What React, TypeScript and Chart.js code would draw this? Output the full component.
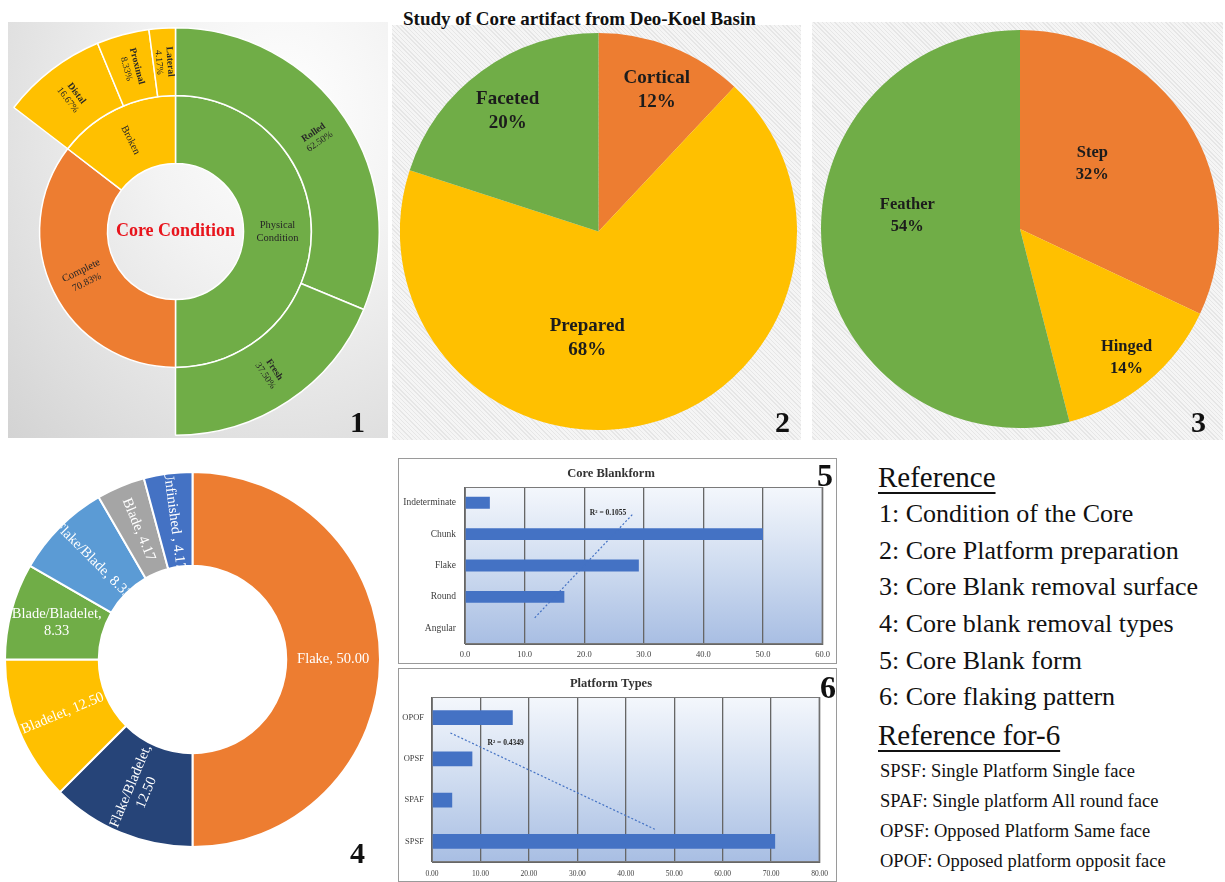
import React, { useEffect, useRef } from "react";
import { Chart, registerables } from "chart.js";
Chart.register(...registerables);

const SERIF = '"Liberation Serif", "Times New Roman", serif';
const GREEN = "#70AD47";
const ORANGE = "#ED7D31";
const YELLOW = "#FFC000";
const NAVY = "#264478";
const LIGHTBLUE = "#5B9BD5";
const GREY = "#A5A5A5";
const BLUE = "#4472C4";

// ---------- Data ----------
const chartTitle = "Study of Core artifact from Deo-Koel Basin";

// 1: Condition of the Core (sunburst)
const condOuterLabels = ["Rolled", "Fresh", "", "Distal", "Proximal", "Lateral"];
const condOuterValues = [62.5, 37.5, 70.83, 16.67, 8.33, 4.17];
const condInnerLabels = ["Physical Condition", "Complete", "Broken"];
const condInnerValues = [100, 70.83, 29.17];
const condInnerShowValue = [false, true, false];
const condCenterLabel = "Core Condition";

// 2: Core Platform preparation
const platformPrepLabels = ["Cortical", "Prepared", "Faceted"];
const platformPrepValues = [12, 68, 20];

// 3: Core Blank removal surface
const removalSurfaceLabels = ["Step", "Hinged", "Feather"];
const removalSurfaceValues = [32, 14, 54];

// 4: Core blank removal types
const removalTypeLabels = ["Flake", "Flake/Bladelet", "Bladelet", "Blade/Bladelet", "Flake/Blade", "Blade", "Unfinished "];
const removalTypeValues = [50.0, 12.5, 12.5, 8.33, 8.33, 4.17, 4.17];

// 5: Core Blank form
const blankTitle = "Core Blankform";
const blankLabels = ["Indeterminate", "Chunk", "Flake", "Round", "Angular"];
const blankValues = [4.17, 50.0, 29.17, 16.67, 0];
const blankTrendX = [11.7, 28.3];
const blankTrendY = [4, 0];
const blankR2 = 0.1055;
const blankTicks = [0, 10, 20, 30, 40, 50, 60];

// 6: Core flaking pattern
const platformTitle = "Platform Types";
const platformLabels = ["OPOF", "OPSF", "SPAF", "SPSF"];
const platformValues = [16.67, 8.33, 4.17, 70.83];
const platformTrendX = [3.8, 46.2];
const platformTrendY = [0.23, 2.87];
const platformR2 = 0.4349;
const platformTicks = [0, 10, 20, 30, 40, 50, 60, 70, 80];

const referenceItems = [
  "1: Condition of the Core",
  "2: Core Platform preparation",
  "3: Core Blank removal surface",
  "4: Core blank removal types",
  "5: Core Blank form",
  "6: Core flaking pattern",
];
const reference6Items = [
  "SPSF: Single Platform Single face",
  "SPAF: Single platform All round face",
  "OPSF: Opposed Platform Same face",
  "OPOF: Opposed platform opposit face",
];

// ---------- Helpers ----------
type Line = { t: string; font: string };
function drawLines(ctx: CanvasRenderingContext2D, x: number, y: number, rot: number, lines: Line[], lh: number, color: string) {
  ctx.save();
  ctx.translate(x, y);
  ctx.rotate(rot);
  ctx.fillStyle = color;
  ctx.textAlign = "center";
  ctx.textBaseline = "middle";
  const n = lines.length;
  lines.forEach((l, i) => {
    ctx.font = l.font;
    ctx.fillText(l.t, 0, (i - (n - 1) / 2) * lh);
  });
  ctx.restore();
}
function radialRot(a: number) {
  return Math.cos(a) >= -1e-6 ? a : a + Math.PI;
}
function arcProps(arc: any) {
  return arc.getProps(["x", "y", "startAngle", "endAngle", "innerRadius", "outerRadius"], true);
}

// ---------- Panel 1 ----------
const sunburstLabelPlugin = {
  id: "sunburstLabels",
  afterDatasetsDraw(chart: any) {
    const ctx = chart.ctx;
    const col = "#262626";
    chart.getDatasetMeta(0).data.forEach((arc: any, i: number) => {
      if (!condOuterLabels[i]) return;
      const p = arcProps(arc);
      const a = (p.startAngle + p.endAngle) / 2;
      const r = (p.innerRadius + p.outerRadius) / 2;
      drawLines(ctx, p.x + r * Math.cos(a), p.y + r * Math.sin(a), radialRot(a), [
        { t: condOuterLabels[i], font: `bold 9.5px ${SERIF}` },
        { t: condOuterValues[i].toFixed(2) + "%", font: `9.5px ${SERIF}` },
      ], 11, col);
    });
    chart.getDatasetMeta(1).data.forEach((arc: any, i: number) => {
      const p = arcProps(arc);
      const a = (p.startAngle + p.endAngle) / 2;
      const r = (p.innerRadius + p.outerRadius) / 2;
      const lines: Line[] = [];
      if (condInnerShowValue[i]) {
        lines.push({ t: condInnerLabels[i], font: `10.5px ${SERIF}` });
        lines.push({ t: condInnerValues[i].toFixed(2) + "%", font: `10px ${SERIF}` });
      } else {
        condInnerLabels[i].split(" ").forEach((w) => lines.push({ t: w, font: `10.5px ${SERIF}` }));
      }
      drawLines(ctx, p.x + r * Math.cos(a), p.y + r * Math.sin(a), radialRot(a), lines, 13, col);
      if (i === 0) {
        drawLines(ctx, p.x, p.y, 0, [{ t: condCenterLabel, font: `bold 18px ${SERIF}` }], 18, "#E8141C");
      }
    });
  },
};

function makeSunburst() {
  return {
    type: "doughnut",
    data: {
      labels: condOuterLabels,
      datasets: [
        {
          data: condOuterValues,
          backgroundColor: [GREEN, GREEN, "rgba(0,0,0,0)", YELLOW, YELLOW, YELLOW],
          borderColor: "#ffffff",
          borderWidth: [1.5, 1.5, 0, 1.5, 1.5, 1.5],
        },
        {
          data: condInnerValues,
          backgroundColor: [GREEN, ORANGE, YELLOW],
          borderColor: "#ffffff",
          borderWidth: 1.5,
        },
      ],
    },
    options: {
      responsive: false,
      animation: false,
      events: [],
      cutout: "33.4%",
      layout: { padding: 0 },
      plugins: { legend: { display: false }, tooltip: { enabled: false } },
    },
    plugins: [sunburstLabelPlugin],
  };
}

// ---------- Panels 2 & 3 ----------
function makePie(labels: string[], values: number[], colors: string[], place: { dA: number; rf: number }[], fs: number, lh: number) {
  const plugin = {
    id: "pieLabels",
    afterDatasetsDraw(chart: any) {
      const ctx = chart.ctx;
      chart.getDatasetMeta(0).data.forEach((arc: any, i: number) => {
        const p = arcProps(arc);
        const a = (p.startAngle + p.endAngle) / 2 + (place[i].dA * Math.PI) / 180;
        const r = p.outerRadius * place[i].rf;
        drawLines(ctx, p.x + r * Math.cos(a), p.y + r * Math.sin(a), 0, [
          { t: labels[i], font: `bold ${fs}px ${SERIF}` },
          { t: values[i] + "%", font: `bold ${fs}px ${SERIF}` },
        ], lh, "#1c1c1c");
      });
    },
  };
  return {
    type: "pie",
    data: { labels, datasets: [{ data: values, backgroundColor: colors, borderWidth: 0 }] },
    options: {
      responsive: false,
      animation: false,
      events: [],
      layout: { padding: 0 },
      plugins: { legend: { display: false }, tooltip: { enabled: false } },
    },
    plugins: [plugin],
  };
}

// ---------- Panel 4 ----------
const removalTypeMultiline = [false, true, false, true, false, false, false];
const removalTypeHorizontal = [true, false, false, true, false, false, false];
const donutLabelPlugin = {
  id: "donutLabels",
  afterDatasetsDraw(chart: any) {
    const ctx = chart.ctx;
    chart.getDatasetMeta(0).data.forEach((arc: any, i: number) => {
      const p = arcProps(arc);
      const a = (p.startAngle + p.endAngle) / 2;
      const r = (p.innerRadius + p.outerRadius) / 2;
      const v = removalTypeValues[i].toFixed(2);
      const font = `14.5px ${SERIF}`;
      const lines: Line[] = removalTypeMultiline[i]
        ? [{ t: removalTypeLabels[i] + ",", font }, { t: v, font }]
        : [{ t: removalTypeLabels[i] + ", " + v, font }];
      drawLines(ctx, p.x + r * Math.cos(a), p.y + r * Math.sin(a), removalTypeHorizontal[i] ? 0 : radialRot(a), lines, 17, "#ffffff");
    });
  },
};
function makeDonut() {
  return {
    type: "doughnut",
    data: {
      labels: removalTypeLabels,
      datasets: [
        {
          data: removalTypeValues,
          backgroundColor: [ORANGE, NAVY, YELLOW, GREEN, LIGHTBLUE, GREY, BLUE],
          borderColor: "#ffffff",
          borderWidth: 2,
        },
      ],
    },
    options: {
      responsive: false,
      animation: false,
      events: [],
      cutout: "50%",
      layout: { padding: 0 },
      plugins: { legend: { display: false }, tooltip: { enabled: false } },
    },
    plugins: [donutLabelPlugin],
  };
}

// ---------- Panels 5 & 6 ----------
function makeBar(o: {
  title: string; labels: string[]; values: number[]; trendX: number[]; trendY: number[];
  ticks: number[]; decimals: number; yWidth: number; barPct: number; yFont: number; xFont: number;
  xPad: number; yPad: number; r2: number; r2x: number; r2y: number;
}) {
  const plotPlugin = {
    id: "plotBg",
    beforeDraw(chart: any) {
      const { ctx, chartArea: c } = chart;
      const g = ctx.createLinearGradient(0, c.top, 0, c.bottom);
      g.addColorStop(0, "#f4f7fc");
      g.addColorStop(0.5, "#cfdcf0");
      g.addColorStop(1, "#a8bee3");
      ctx.save();
      ctx.fillStyle = g;
      ctx.fillRect(c.left, c.top, c.right - c.left, c.bottom - c.top);
      ctx.restore();
    },
    beforeDatasetsDraw(chart: any) {
      const { ctx, chartArea: c } = chart;
      ctx.save();
      ctx.strokeStyle = "#7a7a7a";
      ctx.lineWidth = 1;
      ctx.strokeRect(c.left + 0.5, c.top + 0.5, c.right - c.left - 1, c.bottom - c.top - 1);
      ctx.restore();
    },
    afterDatasetsDraw(chart: any) {
      const { ctx, scales } = chart;
      ctx.save();
      ctx.font = `bold 7.5px ${SERIF}`;
      ctx.fillStyle = "#262626";
      ctx.textAlign = "center";
      ctx.textBaseline = "middle";
      ctx.fillText("R² = " + o.r2.toFixed(4), scales.x.getPixelForValue(o.r2x), scales.yt.getPixelForValue(o.r2y));
      ctx.restore();
    },
  };
  return {
    type: "bar",
    data: {
      labels: o.labels,
      datasets: [
        {
          type: "bar",
          data: o.values,
          backgroundColor: BLUE,
          grouped: false,
          barPercentage: o.barPct,
          categoryPercentage: 1,
          order: 1,
        },
        {
          type: "line",
          data: o.trendX.map((x, i) => ({ x, y: o.trendY[i] })),
          yAxisID: "yt",
          xAxisID: "x",
          borderColor: BLUE,
          borderWidth: 1.2,
          borderDash: [2, 2],
          pointRadius: 0,
          fill: false,
          order: 0,
        },
      ],
    },
    options: {
      indexAxis: "y",
      responsive: false,
      animation: false,
      events: [],
      layout: { padding: { left: 0, right: 13, top: 0, bottom: 0 } },
      plugins: {
        legend: { display: false },
        tooltip: { enabled: false },
        title: {
          display: true,
          text: o.title,
          color: "#333333",
          font: { family: SERIF, size: 12.5, weight: "bold" },
          padding: { top: 7, bottom: 6 },
        },
      },
      scales: {
        x: {
          type: "linear",
          min: o.ticks[0],
          max: o.ticks[o.ticks.length - 1],
          afterBuildTicks: (s: any) => { s.ticks = o.ticks.map((v) => ({ value: v })); },
          ticks: {
            callback: (v: any) => Number(v).toFixed(o.decimals),
            font: { family: SERIF, size: o.xFont },
            color: "#404040",
            padding: o.xPad,
          },
          grid: { color: "#666666", lineWidth: 1.3, drawTicks: false },
          border: { display: true, color: "#666666" },
          afterFit: (s: any) => { s.height = 19; },
        },
        y: {
          type: "category",
          ticks: { font: { family: SERIF, size: o.yFont }, color: "#404040", padding: o.yPad },
          grid: { display: false, drawTicks: false },
          border: { display: true, color: "#666666" },
          afterFit: (s: any) => { s.width = o.yWidth; },
        },
        yt: {
          type: "linear",
          axis: "y",
          display: false,
          min: -0.5,
          max: o.labels.length - 0.5,
          reverse: true,
        },
      },
    },
    plugins: [plotPlugin],
  };
}

// ---------- Components ----------
function ChartBox({ x, y, w, h, make }: { x: number; y: number; w: number; h: number; make: () => any }) {
  const ref = useRef<HTMLCanvasElement | null>(null);
  useEffect(() => {
    if (!ref.current) return;
    const chart = new Chart(ref.current, make());
    return () => chart.destroy();
  }, []);
  return <canvas ref={ref} width={w} height={h} style={{ position: "absolute", left: x, top: y, width: w, height: h }} />;
}

function T({ x, y, fs, bold, children, underline }: any) {
  return (
    <div
      style={{
        position: "absolute",
        left: x,
        top: y - 0.8375 * fs,
        fontSize: fs,
        lineHeight: 1,
        fontWeight: bold ? "bold" : "normal",
        whiteSpace: "nowrap",
        color: "#111111",
        fontFamily: SERIF,
        textDecoration: underline ? "underline" : "none",
        textDecorationThickness: underline ? "1.5px" : undefined,
        textUnderlineOffset: underline ? "5px" : undefined,
      }}
    >
      {children}
    </div>
  );
}

const stripes = "repeating-linear-gradient(45deg, #f5f5f5 0px, #f5f5f5 2px, #e6e6e6 2px, #e6e6e6 3px)";

export default function App() {
  return (
    <div style={{ position: "absolute", left: 0, top: 0, width: 1225, height: 882, background: "#ffffff", overflow: "hidden", fontFamily: SERIF }}>
      {/* Panel backgrounds */}
      <div style={{ position: "absolute", left: 8, top: 22, width: 380, height: 416, background: "radial-gradient(ellipse at 72% 22%, #ffffff 0%, #f3f3f3 35%, #d3d3d3 100%)" }} />
      <div style={{ position: "absolute", left: 392, top: 25, width: 409, height: 415, background: stripes }} />
      <div style={{ position: "absolute", left: 812, top: 22, width: 411, height: 418, background: stripes }} />

      <T x={403} y={25} fs={19} bold>{chartTitle}</T>

      {/* Panel 1 */}
      <ChartBox x={-29} y={27} w={409} h={409} make={makeSunburst} />
      {/* Panel 2 */}
      <ChartBox x={400} y={33} w={397} h={397} make={() => makePie(platformPrepLabels, platformPrepValues, [ORANGE, YELLOW, GREEN], [{ dA: 0.8, rf: 0.77 }, { dA: 20.4, rf: 0.54 }, { dA: -1, rf: 0.76 }], 19, 24)} />
      {/* Panel 3 */}
      <ChartBox x={821} y={30} w={398} h={398} make={() => makePie(removalSurfaceLabels, removalSurfaceValues, [ORANGE, YELLOW, GREEN], [{ dA: -9.7, rf: 0.49 }, { dA: 0, rf: 0.84 }, { dA: 13.8, rf: 0.57 }], 16.5, 22)} />
      {/* Panel 4 */}
      <ChartBox x={4} y={471} w={377} h={377} make={makeDonut} />

      {/* Panel 5 */}
      <div style={{ position: "absolute", left: 398, top: 458, width: 437, height: 204, border: "1px solid #9a9a9a", background: "#ffffff" }}>
        <ChartBox x={0} y={0} w={437} h={204} make={() => makeBar({
          title: blankTitle, labels: blankLabels, values: blankValues, trendX: blankTrendX, trendY: blankTrendY,
          ticks: blankTicks, decimals: 1, yWidth: 66, barPct: 0.38, yFont: 9.5, xFont: 8.5, xPad: 6, yPad: 9,
          r2: blankR2, r2x: 24.0, r2y: 0,
        })} />
      </div>
      {/* Panel 6 */}
      <div style={{ position: "absolute", left: 398, top: 668, width: 437, height: 212, border: "1px solid #9a9a9a", background: "#ffffff" }}>
        <ChartBox x={0} y={0} w={437} h={212} make={() => makeBar({
          title: platformTitle, labels: platformLabels, values: platformValues, trendX: platformTrendX, trendY: platformTrendY,
          ticks: platformTicks, decimals: 2, yWidth: 33, barPct: 0.36, yFont: 8.5, xFont: 7.5, xPad: 8, yPad: 8,
          r2: platformR2, r2x: 15.2, r2y: 0.5,
        })} />
      </div>

      {/* Panel numbers */}
      <T x={350} y={432} fs={30} bold>1</T>
      <T x={775} y={432} fs={30} bold>2</T>
      <T x={1191} y={432} fs={30} bold>3</T>
      <T x={350} y={863} fs={30} bold>4</T>
      <T x={817} y={486} fs={32} bold>5</T>
      <T x={820} y={698} fs={32} bold>6</T>

      {/* Reference text */}
      <T x={878} y={487} fs={29} underline>Reference</T>
      {referenceItems.map((s, i) => (
        <T key={s} x={879} y={523 + 36.6 * i} fs={26}>{s}</T>
      ))}
      <T x={878} y={745} fs={29} underline>Reference for-6</T>
      {reference6Items.map((s, i) => (
        <T key={s} x={880} y={777 + 30 * i} fs={18.5}>{s}</T>
      ))}
    </div>
  );
}
